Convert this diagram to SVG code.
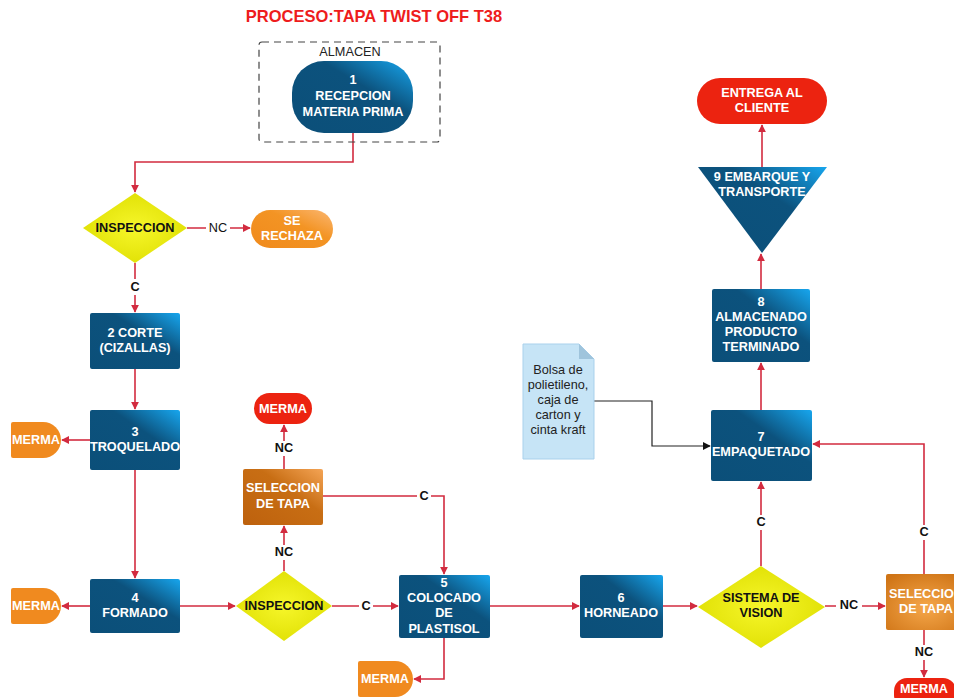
<svg xmlns="http://www.w3.org/2000/svg" width="954" height="698" viewBox="0 0 954 698">
  <defs>
    <linearGradient id="gBlue" x1="0" y1="1" x2="1" y2="0">
      <stop offset="0" stop-color="#0b4f79"/>
      <stop offset="0.62" stop-color="#0c527d"/>
      <stop offset="1" stop-color="#17a6ee"/>
    </linearGradient>
    <linearGradient id="gOrange" x1="0" y1="1" x2="1" y2="0">
      <stop offset="0" stop-color="#f08a1c"/>
      <stop offset="0.6" stop-color="#f39424"/>
      <stop offset="1" stop-color="#fbb772"/>
    </linearGradient>
    <linearGradient id="gBrown" x1="0" y1="1" x2="1" y2="0">
      <stop offset="0" stop-color="#bd610d"/>
      <stop offset="0.6" stop-color="#c86e14"/>
      <stop offset="1" stop-color="#f4a455"/>
    </linearGradient>
    <radialGradient id="gBrown2" cx="0.5" cy="0.6" r="0.7">
      <stop offset="0" stop-color="#f5a74a"/>
      <stop offset="1" stop-color="#cf7416"/>
    </radialGradient>
    <radialGradient id="gYellow" cx="0.5" cy="0.5" r="0.6">
      <stop offset="0" stop-color="#f6f62a"/>
      <stop offset="1" stop-color="#dede00"/>
    </radialGradient>
    <marker id="ar" viewBox="0 0 10 10" refX="9" refY="5" markerWidth="8" markerHeight="8" markerUnits="userSpaceOnUse" orient="auto">
      <path d="M0,0 L10,5 L0,10 z" fill="#d22b3f"/>
    </marker>
    <marker id="ak" viewBox="0 0 10 10" refX="9" refY="5" markerWidth="8" markerHeight="8" markerUnits="userSpaceOnUse" orient="auto">
      <path d="M0,0 L10,5 L0,10 z" fill="#111"/>
    </marker>
  </defs>
  <style>
    .t { font-family: "Liberation Sans", Arial, sans-serif; font-weight: bold; font-size: 12.7px; text-anchor: middle; fill: #ffffff; }
    .k { font-family: "Liberation Sans", Arial, sans-serif; font-weight: bold; font-size: 12.7px; text-anchor: middle; fill: #111111; }
    .n { font-family: "Liberation Sans", Arial, sans-serif; font-size: 12.7px; text-anchor: middle; fill: #222222; }
    .c { fill: none; stroke: #d22b3f; stroke-width: 1.6; marker-end: url(#ar); }
    .lbl { fill: #ffffff; }
  </style>

  <rect width="954" height="698" fill="#ffffff"/>

  <text x="374" y="22" font-family="Liberation Sans, Arial, sans-serif" font-weight="bold" font-size="16.5" fill="#ee1c1c" text-anchor="middle">PROCESO:TAPA TWIST OFF T38</text>

  <!-- connectors -->
  <g id="connectors">
    <path class="c" d="M353,133 V162 H135 V192"/>
    <path class="c" d="M187,228 H250"/>
    <path class="c" d="M135,263 V312"/>
    <path class="c" d="M135,369 V409"/>
    <path class="c" d="M90,440 H62"/>
    <path class="c" d="M135,470 V578"/>
    <path class="c" d="M90,606 H62"/>
    <path class="c" d="M180,606 H235"/>
    <path class="c" d="M284,571 V526"/>
    <path class="c" d="M284,469 V425"/>
    <path class="c" d="M323,496 H444 V574"/>
    <path class="c" d="M332,606 H398"/>
    <path class="c" d="M444,638 V679 H414"/>
    <path class="c" d="M490,606 H579"/>
    <path class="c" d="M663,606 H697"/>
    <path class="c" d="M761,566 V482"/>
    <path class="c" d="M825,606 H885"/>
    <path class="c" d="M924,574 V444 H813"/>
    <path class="c" d="M924,630 V677"/>
    <path class="c" d="M761,410 V363"/>
    <path class="c" d="M761,289 V254"/>
    <path class="c" d="M762,167 V125"/>
    <path d="M594,401 H652 V446 H710" fill="none" stroke="#222" stroke-width="1.2" marker-end="url(#ak)"/>

    <!-- connector labels -->
    <rect class="lbl" x="206" y="221" width="24" height="14"/>
    <text class="k" x="218" y="232" style="font-weight:normal">NC</text>
    <rect class="lbl" x="127" y="279" width="16" height="16"/>
    <text class="k" x="135" y="291">C</text>
    <rect class="lbl" x="271" y="441" width="26" height="15"/>
    <text class="k" x="284" y="452">NC</text>
    <rect class="lbl" x="271" y="545" width="26" height="15"/>
    <text class="k" x="284" y="556">NC</text>
    <rect class="lbl" x="417" y="489" width="14" height="14"/>
    <text class="k" x="424" y="500">C</text>
    <rect class="lbl" x="359" y="599" width="14" height="14"/>
    <text class="k" x="366" y="610">C</text>
    <rect class="lbl" x="754" y="515" width="14" height="15"/>
    <text class="k" x="761" y="526">C</text>
    <rect class="lbl" x="836" y="598" width="26" height="14"/>
    <text class="k" x="849" y="609">NC</text>
    <rect class="lbl" x="917" y="525" width="14" height="15"/>
    <text class="k" x="924" y="536">C</text>
    <rect class="lbl" x="911" y="645" width="26" height="15"/>
    <text class="k" x="924" y="656">NC</text>
  </g>

  <!-- storage area -->
  <g id="almacen">
    <rect x="259" y="42" width="181" height="100" rx="3" fill="none" stroke="#444" stroke-width="1.2" stroke-dasharray="7,5"/>
    <text class="n" x="350" y="56" font-size="13">ALMACEN</text>
  </g>

  <g id="n1">
    <rect x="292" y="61" width="121" height="72" rx="32" fill="url(#gBlue)"/>
    <text class="t" x="353" y="84">1</text>
    <text class="t" x="353" y="100">RECEPCION</text>
    <text class="t" x="353" y="116">MATERIA PRIMA</text>
  </g>

  <g id="insp1">
    <polygon points="135,193 187,228 135,263 83,228" fill="url(#gYellow)"/>
    <text class="k" x="135" y="232">INSPECCION</text>
  </g>

  <g id="rechaza">
    <rect x="251" y="210" width="82" height="38" rx="19" fill="url(#gOrange)"/>
    <text class="t" x="292" y="225">SE</text>
    <text class="t" x="292" y="240">RECHAZA</text>
  </g>

  <g id="n2">
    <rect x="90" y="313" width="90" height="56" rx="2" fill="url(#gBlue)"/>
    <text class="t" x="135" y="337">2 CORTE</text>
    <text class="t" x="135" y="352">(CIZALLAS)</text>
  </g>

  <g id="n3">
    <rect x="90" y="410" width="90" height="60" rx="2" fill="url(#gBlue)"/>
    <text class="t" x="135" y="436">3</text>
    <text class="t" x="135" y="451">TROQUELADO</text>
  </g>

  <g id="merma3">
    <path d="M13,422 H43 A18,18 0 0 1 43,458 H13 a2,2 0 0 1 -2,-2 V424 a2,2 0 0 1 2,-2 z" fill="#f08a1f"/>
    <text class="t" x="36" y="444">MERMA</text>
  </g>

  <g id="n4">
    <rect x="90" y="579" width="90" height="54" rx="2" fill="url(#gBlue)"/>
    <text class="t" x="135" y="602">4</text>
    <text class="t" x="135" y="617">FORMADO</text>
  </g>

  <g id="merma4">
    <path d="M13,588 H43 A18,18 0 0 1 43,624 H13 a2,2 0 0 1 -2,-2 V590 a2,2 0 0 1 2,-2 z" fill="#f08a1f"/>
    <text class="t" x="36" y="610">MERMA</text>
  </g>

  <g id="insp2">
    <polygon points="284,571 332,606 284,641 236,606" fill="url(#gYellow)"/>
    <text class="k" x="284" y="610">INSPECCION</text>
  </g>

  <g id="sel1">
    <rect x="243" y="469" width="80" height="56" rx="2" fill="url(#gBrown)"/>
    <text class="t" x="283" y="492">SELECCION</text>
    <text class="t" x="283" y="508">DE TAPA</text>
  </g>

  <g id="merma-sel1">
    <rect x="254" y="393" width="58" height="31" rx="15.5" fill="#ec2310"/>
    <text class="t" x="283" y="413">MERMA</text>
  </g>

  <g id="n5">
    <rect x="399" y="575" width="91" height="63" rx="2" fill="url(#gBlue)"/>
    <text class="t" x="444" y="587">5</text>
    <text class="t" x="444" y="602">COLOCADO</text>
    <text class="t" x="444" y="617">DE</text>
    <text class="t" x="444" y="633">PLASTISOL</text>
  </g>

  <g id="merma5">
    <path d="M360,661 H395 A18,18 0 0 1 395,697 H360 a2,2 0 0 1 -2,-2 V663 a2,2 0 0 1 2,-2 z" fill="#f08a1f"/>
    <text class="t" x="385" y="683">MERMA</text>
  </g>

  <g id="n6">
    <rect x="580" y="575" width="83" height="63" rx="2" fill="url(#gBlue)"/>
    <text class="t" x="621" y="602">6</text>
    <text class="t" x="621" y="617">HORNEADO</text>
  </g>

  <g id="vision">
    <polygon points="761,566 825,607 761,648 698,607" fill="url(#gYellow)"/>
    <text class="k" x="761" y="602">SISTEMA DE</text>
    <text class="k" x="761" y="617">VISION</text>
  </g>

  <g id="sel2">
    <rect x="886" y="574" width="80" height="56" rx="2" fill="url(#gBrown2)"/>
    <text class="t" x="926" y="598">SELECCION</text>
    <text class="t" x="926" y="613">DE TAPA</text>
  </g>

  <g id="merma-sel2">
    <rect x="894" y="678" width="62" height="30" rx="13" fill="#ec2310"/>
    <text class="t" x="924" y="693">MERMA</text>
  </g>

  <g id="n7">
    <rect x="711" y="410" width="101" height="71" rx="2" fill="url(#gBlue)"/>
    <text class="t" x="761" y="441">7</text>
    <text class="t" x="761" y="456">EMPAQUETADO</text>
  </g>

  <g id="material">
    <path d="M523,344 H579 L594,359 V459 H523 z" fill="#c6e4f6" stroke="#a9d1ec" stroke-width="1"/>
    <path d="M579,344 L594,359 H579 z" fill="#9fc4dc"/>
    <text class="n" x="558" y="374">Bolsa de</text>
    <text class="n" x="558" y="389">polietileno,</text>
    <text class="n" x="558" y="404">caja de</text>
    <text class="n" x="558" y="419">carton y</text>
    <text class="n" x="558" y="434">cinta kraft</text>
  </g>

  <g id="n8">
    <rect x="712" y="289" width="98" height="73" rx="2" fill="url(#gBlue)"/>
    <text class="t" x="761" y="306">8</text>
    <text class="t" x="761" y="321">ALMACENADO</text>
    <text class="t" x="761" y="336">PRODUCTO</text>
    <text class="t" x="761" y="351">TERMINADO</text>
  </g>

  <g id="n9">
    <polygon points="698,167 827,167 762,253" fill="url(#gBlue)"/>
    <text class="t" x="762" y="181">9 EMBARQUE Y</text>
    <text class="t" x="762" y="196">TRANSPORTE</text>
  </g>

  <g id="entrega">
    <rect x="697" y="78" width="130" height="46" rx="23" fill="#ec2310"/>
    <text class="t" x="762" y="97">ENTREGA AL</text>
    <text class="t" x="762" y="112">CLIENTE</text>
  </g>
</svg>
